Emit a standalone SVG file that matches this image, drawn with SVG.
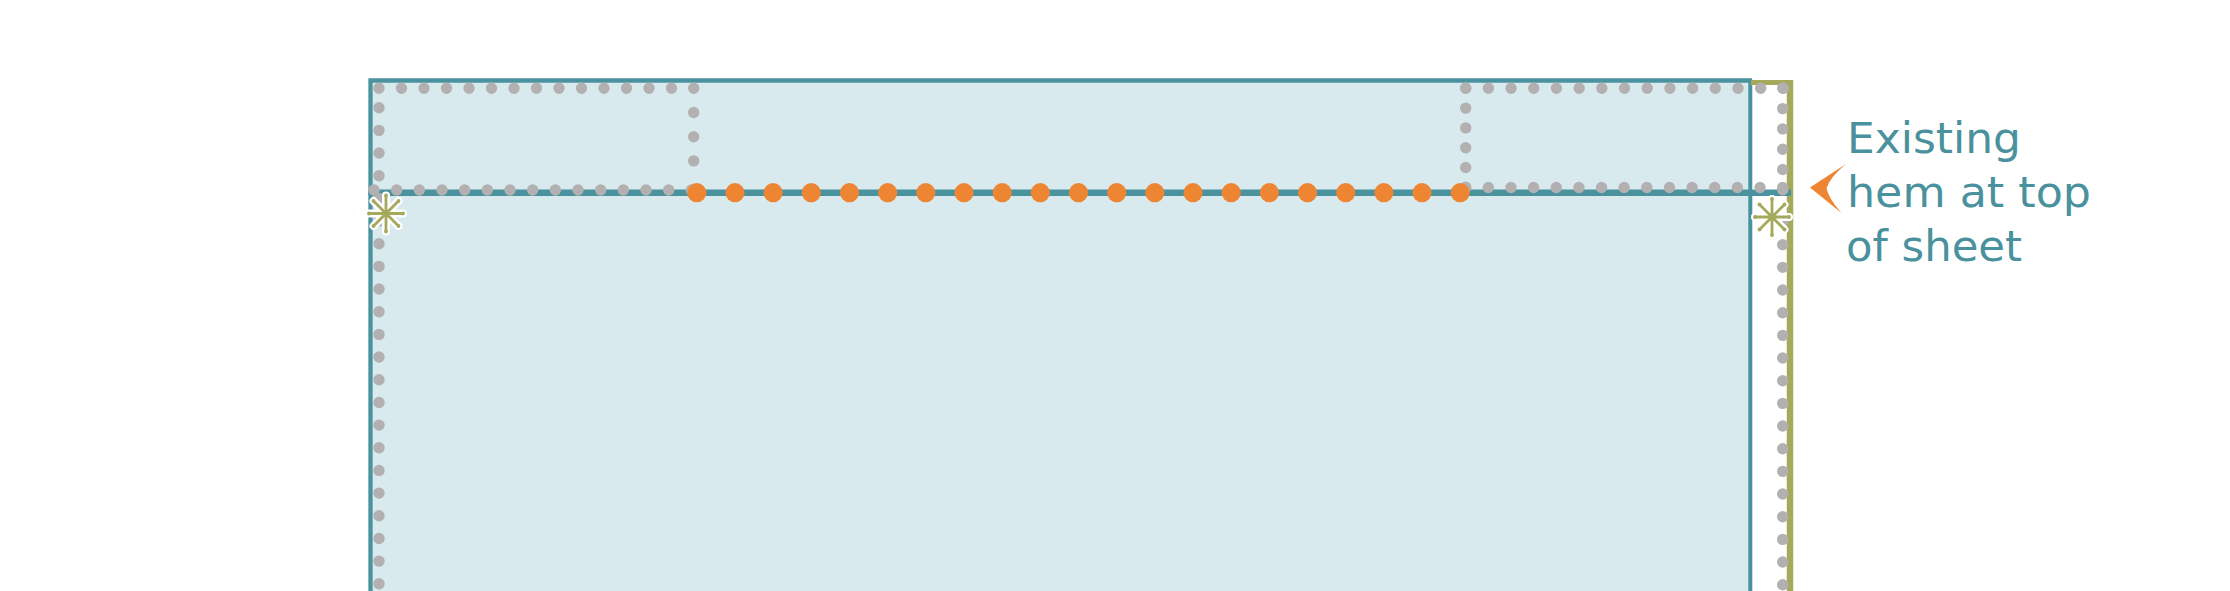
<svg xmlns="http://www.w3.org/2000/svg" width="2230" height="591" viewBox="0 0 2230 591">
<style>
.teal{stroke:#4b929f;fill:none}
.olive{stroke:#a5a95c;fill:none}
.gdot{stroke:#b3b0b1;stroke-width:11.4;stroke-linecap:round;fill:none}
.odot{fill:#ee8533}
.lbl{font-family:"DejaVu Sans","Liberation Sans",sans-serif;font-size:43px;fill:#4a919e}
</style>
<defs>
<g id="star">
<g stroke="#ffffff" stroke-width="8" stroke-linecap="round" fill="#ffffff">
<path d="M0,-18V18M-17,0H17M-12.5,-12.5L12.5,12.5M-12.5,12.5L12.5,-12.5"/>
</g>
<g stroke="#a5a95c" stroke-width="2.8" fill="#a5a95c">
<path d="M0,-18V18M-17,0H17M-12.5,-12.5L12.5,12.5M-12.5,12.5L12.5,-12.5"/>
<circle cx="0" cy="-18" r="1.9" stroke="none"/><circle cx="0" cy="18" r="1.9" stroke="none"/>
<circle cx="-17" cy="0" r="1.9" stroke="none"/><circle cx="17" cy="0" r="1.9" stroke="none"/>
<circle cx="-12.5" cy="-12.5" r="1.9" stroke="none"/><circle cx="12.5" cy="12.5" r="1.9" stroke="none"/>
<circle cx="-12.5" cy="12.5" r="1.9" stroke="none"/><circle cx="12.5" cy="-12.5" r="1.9" stroke="none"/>
</g>
</g>
</defs>
<rect width="2230" height="591" fill="#ffffff"/>
<g id="sheet">
<rect x="370.5" y="80.5" width="1379.5" height="520" fill="#d8eaed"/>
<path class="teal" stroke-width="4.3" d="M370.5,600V80.5H1752"/>
<path class="teal" stroke-width="4" d="M1750.3,80.5V600"/>
<path class="olive" stroke-width="5" d="M1751,82.5H1790"/>
<path class="olive" stroke-width="6.5" d="M1790,80V600"/>
</g>
<g id="hem">
<path class="teal" stroke-width="6.5" d="M368.5,192.7H1791"/>
</g>
<g id="fold-lines">
<path class="gdot" stroke-dasharray="0 22.5" d="M379,88.3H694"/>
<path class="gdot" stroke-dasharray="0 24.2" d="M693.7,88.3V185.1"/>
<path class="gdot" stroke-dasharray="0 22.67" d="M374,190H692"/>
<path class="gdot" stroke-dasharray="0 22.67" d="M379,107.7V610"/>
<path class="gdot" stroke-dasharray="0 22.69" d="M1465.7,88.3H1783.4"/>
<path class="gdot" stroke-dasharray="0 19.8" d="M1465.7,88.3V187.3"/>
<path class="gdot" stroke-dasharray="0 22.64" d="M1465.7,187.5H1782.7"/>
<path class="gdot" stroke-dasharray="0 20.3" d="M1782.7,88.3V189.8"/>
<path class="gdot" stroke-dasharray="0 22.67" d="M1782.7,222V610"/>
</g>
<g id="stitch-line">
<circle class="odot" cx="696.8" cy="192.7" r="9.6"/>
<circle class="odot" cx="735.0" cy="192.7" r="9.6"/>
<circle class="odot" cx="773.1" cy="192.7" r="9.6"/>
<circle class="odot" cx="811.3" cy="192.7" r="9.6"/>
<circle class="odot" cx="849.5" cy="192.7" r="9.6"/>
<circle class="odot" cx="887.7" cy="192.7" r="9.6"/>
<circle class="odot" cx="925.8" cy="192.7" r="9.6"/>
<circle class="odot" cx="964.0" cy="192.7" r="9.6"/>
<circle class="odot" cx="1002.2" cy="192.7" r="9.6"/>
<circle class="odot" cx="1040.3" cy="192.7" r="9.6"/>
<circle class="odot" cx="1078.5" cy="192.7" r="9.6"/>
<circle class="odot" cx="1116.7" cy="192.7" r="9.6"/>
<circle class="odot" cx="1154.8" cy="192.7" r="9.6"/>
<circle class="odot" cx="1193.0" cy="192.7" r="9.6"/>
<circle class="odot" cx="1231.2" cy="192.7" r="9.6"/>
<circle class="odot" cx="1269.4" cy="192.7" r="9.6"/>
<circle class="odot" cx="1307.5" cy="192.7" r="9.6"/>
<circle class="odot" cx="1345.7" cy="192.7" r="9.6"/>
<circle class="odot" cx="1383.9" cy="192.7" r="9.6"/>
<circle class="odot" cx="1422.0" cy="192.7" r="9.6"/>
<circle class="odot" cx="1460.2" cy="192.7" r="9.6"/>
</g>
<g id="star-left"><use href="#star" x="386" y="213.5"/></g>
<g id="star-right"><use href="#star" x="1772" y="217"/></g>
<g id="connectors">
<path fill="#ee8533" d="M1846,164 L1810,187.5 L1841.5,213 Q1829,199 1826.5,188.5 Q1830,177 1846,164 Z"/>
</g>
<g id="label">
<text class="lbl"><tspan x="1847" y="153" textLength="174" lengthAdjust="spacingAndGlyphs">Existing</tspan><tspan x="1847" y="207" textLength="244" lengthAdjust="spacingAndGlyphs">hem at top</tspan><tspan x="1846" y="260.5" textLength="176" lengthAdjust="spacingAndGlyphs">of sheet</tspan></text>
</g>
</svg>
